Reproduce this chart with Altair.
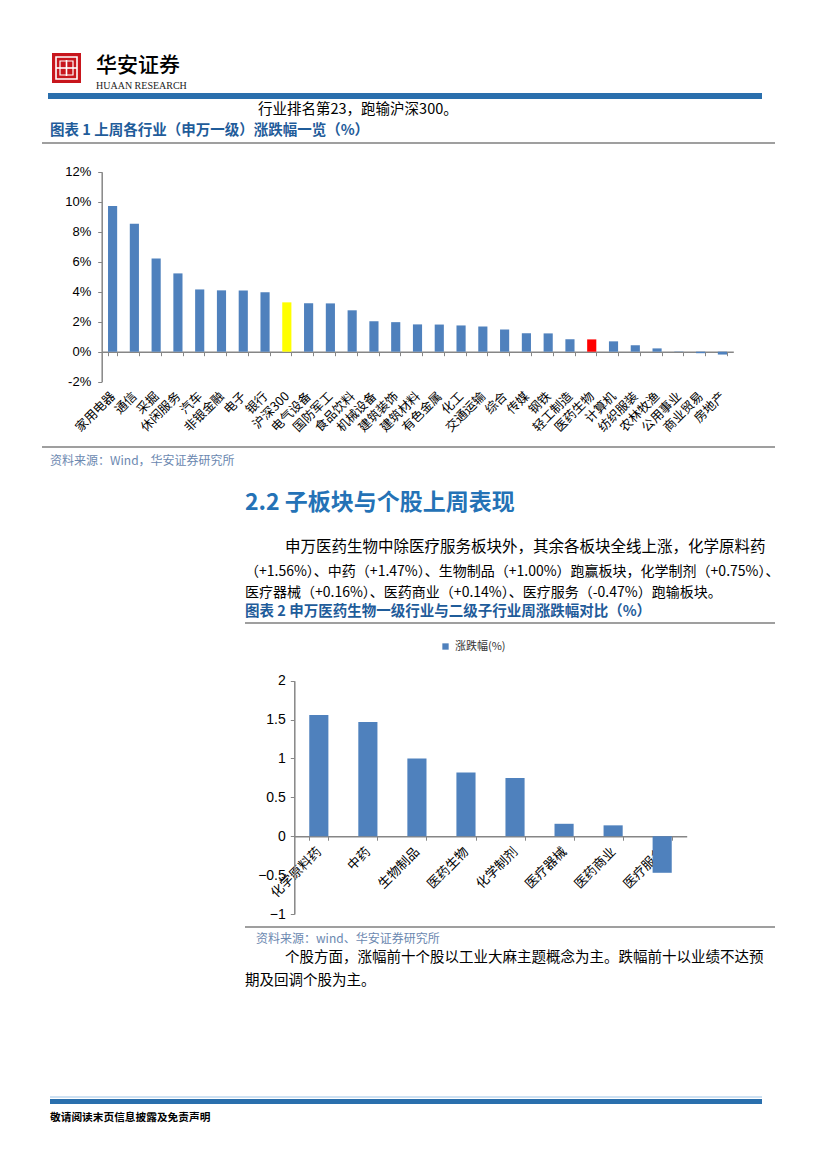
import altair as alt
import pandas as pd

# ---------------- data ----------------
ind_names = ["家用电器", "通信", "采掘", "休闲服务", "汽车", "非银金融", "电子", "银行",
             "沪深300", "电气设备", "国防军工", "食品饮料", "机械设备", "建筑装饰", "建筑材料",
             "有色金属", "化工", "交通运输", "综合", "传媒", "钢铁", "轻工制造", "医药生物",
             "计算机", "纺织服装", "农林牧渔", "公用事业", "商业贸易", "房地产"]
ind_values = [9.72, 8.53, 6.21, 5.22, 4.15, 4.09, 4.08, 3.96,
              3.29, 3.23, 3.22, 2.76, 2.03, 1.97, 1.82,
              1.81, 1.75, 1.68, 1.48, 1.23, 1.22, 0.83, 0.82,
              0.69, 0.43, 0.22, -0.02, -0.10, -0.19]
ind_group = ["普通"] * len(ind_names)
ind_group[ind_names.index("沪深300")] = "沪深300"
ind_group[ind_names.index("医药生物")] = "医药生物"
y1_ticks = [-2, 0, 2, 4, 6, 8, 10, 12]

sub_names = ["化学原料药", "中药", "生物制品", "医药生物", "化学制剂", "医疗器械", "医药商业", "医疗服务"]
sub_values = [1.56, 1.47, 1.00, 0.82, 0.75, 0.16, 0.14, -0.47]
sub_series = "涨跌幅(%)"
y2_ticks = [-1, -0.5, 0, 0.5, 1, 1.5, 2]

df1 = pd.DataFrame({"行业": ind_names, "涨跌幅": ind_values, "组": ind_group})
df2 = pd.DataFrame({"子行业": sub_names, "涨跌幅": sub_values, "系列": [sub_series] * len(sub_names)})

# ---------------- styling ----------------
CJK = "Noto Sans CJK SC"
SANS = "Liberation Sans"
W, H = 811, 1153
OX, OY = 8, 8  # page margin -> plot coords
BLUE_BAR = "#4f81bd"
AXIS_GREY = "#868686"
CAP_BLUE = "#1f5c9a"
SRC_BLUE = "#6b88b0"


def one():
    return alt.InlineData(values=[{}])


def txt(s, x, y, size=13, color="#000000", weight="normal", font=CJK, align="left"):
    return alt.Chart(one()).mark_text(
        text=s, align=align, baseline="middle", font=font, fontSize=size,
        color=color, fontWeight=weight
    ).encode(x=alt.value(x - OX), y=alt.value(y - OY))


def hline(x1, x2, y, color="#7f7f7f", width=1.5):
    return alt.Chart(one()).mark_rule(color=color, strokeWidth=width).encode(
        x=alt.value(x1 - OX), x2=alt.value(x2 - OX), y=alt.value(y - OY))


def box(x1, x2, y1, y2, color):
    return alt.Chart(one()).mark_rect(color=color).encode(
        x=alt.value(x1 - OX), x2=alt.value(x2 - OX), y=alt.value(y1 - OY), y2=alt.value(y2 - OY))


def frame(x1, x2, y1, y2, color, width):
    return alt.Chart(one()).mark_rect(fill=None, stroke=color, strokeWidth=width).encode(
        x=alt.value(x1 - OX), x2=alt.value(x2 - OX), y=alt.value(y1 - OY), y2=alt.value(y2 - OY))


# ---------------- chart 1 ----------------
c1_x0, c1_x1 = 101.7, 733.3       # page x of axis extent
c1_ytop, c1_ybot = 171.7, 381.7   # page y of 12% and -2%
c1_zero = c1_ybot - (c1_ybot - c1_ytop) * 2 / 14

chart1 = alt.Chart(df1).mark_bar().encode(
    x=alt.X("行业:N", sort=ind_names,
            scale=alt.Scale(range=[c1_x0 - OX, c1_x1 - OX], paddingInner=0.58, paddingOuter=0.29),
            axis=alt.Axis(orient="bottom", title=None, offset=(c1_zero - OY) - H,
                          labelAngle=-45, labelAlign="right", labelBaseline="middle",
                          labelFont=CJK, labelFontSize=12.5, labelColor="#000000",
                          labelPadding=38, tickBand="extent", tickSize=4,
                          tickColor=AXIS_GREY, domainColor=AXIS_GREY, domainWidth=1.5,
                          grid=False)),
    y=alt.Y("涨跌幅:Q",
            scale=alt.Scale(domain=[-2, 12], range=[c1_ybot - OY, c1_ytop - OY], nice=False, zero=False),
            axis=alt.Axis(orient="left", title=None, offset=-(c1_x0 - OX), values=y1_ticks,
                          labelExpr="datum.value + '%'", labelFont=SANS, labelFontSize=13,
                          labelColor="#000000", labelPadding=7, tickSize=4,
                          tickColor=AXIS_GREY, domainColor=AXIS_GREY, domainWidth=1.5, grid=False)),
    color=alt.Color("组:N", scale=alt.Scale(domain=["普通", "沪深300", "医药生物"],
                                            range=[BLUE_BAR, "#ffff00", "#ff0000"]), legend=None),
)

# ---------------- chart 2 ----------------
c2_x0, c2_x1 = 294.3, 686.7
c2_ytop, c2_ybot = 680.7, 914.0   # page y of 2 and -1
c2_zero = c2_ybot - (c2_ybot - c2_ytop) * 1 / 3

chart2 = alt.Chart(df2).mark_bar().encode(
    x=alt.X("子行业:N", sort=sub_names,
            scale=alt.Scale(range=[c2_x0 - OX, c2_x1 - OX], paddingInner=0.61, paddingOuter=0.305),
            axis=alt.Axis(orient="bottom", title=None, offset=(c2_zero - OY) - H,
                          labelAngle=-45, labelAlign="right", labelBaseline="middle",
                          labelFont=CJK, labelFontSize=13, labelColor="#000000",
                          labelPadding=9, tickBand="extent", tickSize=4,
                          tickColor=AXIS_GREY, domainColor=AXIS_GREY, domainWidth=1.5,
                          grid=False)),
    y=alt.Y("涨跌幅:Q",
            scale=alt.Scale(domain=[-1, 2], range=[c2_ybot - OY, c2_ytop - OY], nice=False, zero=False),
            axis=alt.Axis(orient="left", title=None, offset=-(c2_x0 - OX), values=y2_ticks,
                          labelExpr="format(datum.value, '~g')",
                          labelFont=SANS, labelFontSize=14, labelColor="#000000",
                          labelPadding=5, tickSize=4,
                          tickColor=AXIS_GREY, domainColor=AXIS_GREY, domainWidth=1.5, grid=False)),
    color=alt.Color("系列:N", scale=alt.Scale(domain=[sub_series], range=[BLUE_BAR]),
                    legend=alt.Legend(orient="none", legendX=440 - OX, legendY=641 - OY, title=None,
                                      symbolType="square", symbolSize=40, symbolStrokeWidth=0,
                                      labelFont=CJK, labelFontSize=11, labelColor="#333333",
                                      padding=0, labelOffset=4)),
)

# ---------------- page decorations ----------------
deco = [
    # logo
    box(52, 81, 53, 83, "#c8161d"),
    frame(56, 77, 57, 79, "#ffffff", 1.6),
    hline(56, 77, 68, "#ffffff", 1.6),
    alt.Chart(one()).mark_rule(color="#ffffff", strokeWidth=1.6).encode(
        x=alt.value(66.5 - OX), y=alt.value(60 - OY), y2=alt.value(76 - OY)),
    frame(60, 73, 61, 75, "#ffffff", 1.2),
    txt("华安证券", 96, 66, size=21, weight=500),
    txt("HUAAN RESEARCH", 96, 86, size=10, font="Liberation Serif", color="#222222"),
    box(48, 762, 93, 99, "#2a6fad"),
    txt("行业排名第23，跑输沪深300。", 258, 110, size=14.5),
    txt("图表 1 上周各行业（申万一级）涨跌幅一览（%）", 50, 131, size=14.5, color=CAP_BLUE, weight="bold"),
    hline(42, 775, 143),
    hline(42, 775, 447),
    txt("资料来源：Wind，华安证券研究所", 50, 461, size=12, color=SRC_BLUE),
    txt("2.2 子板块与个股上周表现", 245, 503, size=23, color="#2472b6", weight="bold"),
    txt("申万医药生物中除医疗服务板块外，其余各板块全线上涨，化学原料药", 285, 547, size=15.5),
    txt("（+1.56%）、中药（+1.47%）、生物制品（+1.00%）跑赢板块，化学制剂（+0.75%）、", 245, 572, size=14),
    txt("医疗器械（+0.16%）、医药商业（+0.14%）、医疗服务（-0.47%）跑输板块。", 245, 593, size=14),
    txt("图表 2 申万医药生物一级行业与二级子行业周涨跌幅对比（%）", 245, 612, size=14.5, color=CAP_BLUE, weight="bold"),
    hline(245, 775, 623),
    hline(245, 775, 927),
    txt("资料来源：wind、华安证券研究所", 256, 939, size=12, color=SRC_BLUE),
    txt("个股方面，涨幅前十个股以工业大麻主题概念为主。跌幅前十以业绩不达预", 285, 958, size=14.5),
    txt("期及回调个股为主。", 245, 981, size=14.5),
    hline(50, 762, 1097, "#9dc3e6", 1),
    box(50, 762, 1099, 1104, "#2a6fad"),
    txt("敬请阅读末页信息披露及免责声明", 50, 1118, size=10.7, weight="bold"),
]

chart = alt.layer(*deco, chart1, chart2).resolve_scale(
    x="independent", y="independent", color="independent"
).properties(
    width=W, height=H, padding=0, background="#ffffff",
    autosize=alt.AutoSizeParams(type="none")
).configure_view(stroke=None)

chart.save("out.html", embed_options={"renderer": "svg", "actions": False})
